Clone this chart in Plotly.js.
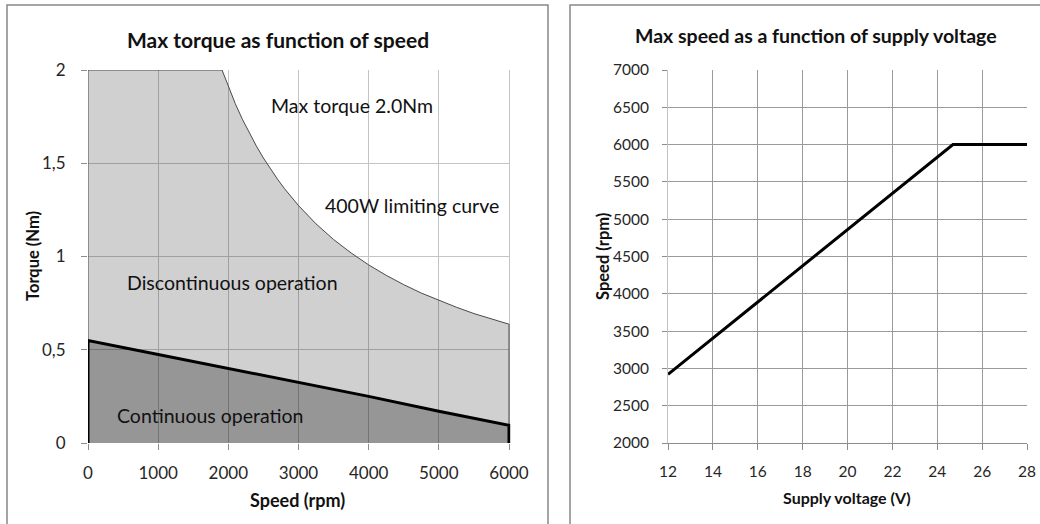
<!DOCTYPE html>
<html>
<head>
<meta charset="utf-8">
<script src="https://cdn.plot.ly/plotly-3.0.1.min.js"></script>
<style>html,body{margin:0;padding:0;background:#fff;}#chart{width:1040px;height:524px;}</style>
</head>
<body>
<div id="chart"></div>
<script>
// ---- Left chart: Max torque as function of speed ----
var maxSpeedRpm = [0, 0, 1910, 2000, 2100, 2200, 2300, 2400, 2500, 2600, 2700, 2800, 2900, 3000, 3250, 3500, 3750, 4000, 4250, 4500, 4750, 5000, 5250, 5500, 5750, 6000, 6000];
var maxTorqueNm = [0, 2.0, 2.0, 1.910, 1.819, 1.736, 1.661, 1.592, 1.528, 1.469, 1.415, 1.364, 1.317, 1.273, 1.175, 1.091, 1.019, 0.955, 0.899, 0.849, 0.804, 0.764, 0.728, 0.694, 0.664, 0.637, 0];
var contSpeedRpm = [0, 0, 1000, 2000, 3000, 4000, 5000, 6000, 6000];
var contTorqueNm = [0, 0.55, 0.475, 0.40, 0.325, 0.25, 0.17, 0.095, 0];
var torqueTickVals = [0, 0.5, 1, 1.5, 2];
var torqueTickText = ["0", "0,5", "1", "1,5", "2"];
var speedTickVals = [0, 1000, 2000, 3000, 4000, 5000, 6000];

// ---- Right chart: Max speed as a function of supply voltage ----
var supplyVoltage = [12, 24.7, 28];
var maxSpeed = [2920, 6000, 6000];
var voltTickVals = [12, 14, 16, 18, 20, 22, 24, 26, 28];
var rpmTickVals = [2000, 2500, 3000, 3500, 4000, 4500, 5000, 5500, 6000, 6500, 7000];

var FONT = "Lato, 'Noto Sans', sans-serif";
var W = 1040, H = 524;
function px(x){ return x / W; }
function py(y){ return 1 - y / H; }

var traces = [
  {
    x: maxSpeedRpm, y: maxTorqueNm, xaxis: 'x', yaxis: 'y',
    type: 'scatter', mode: 'lines', fill: 'toself',
    fillcolor: 'rgba(0,0,0,0.184)',
    line: {color: '#4a4a4a', width: 1},
    hoverinfo: 'skip', showlegend: false
  },
  {
    x: contSpeedRpm, y: contTorqueNm, xaxis: 'x', yaxis: 'y',
    type: 'scatter', mode: 'lines', fill: 'toself',
    fillcolor: 'rgba(0,0,0,0.28)',
    line: {color: '#000000', width: 3},
    hoverinfo: 'skip', showlegend: false
  },
  {
    x: supplyVoltage, y: maxSpeed, xaxis: 'x2', yaxis: 'y2',
    type: 'scatter', mode: 'lines',
    line: {color: '#000000', width: 3},
    hoverinfo: 'skip', showlegend: false
  }
];

var tickFontL = {family: FONT, size: 17, color: '#262626'};
var tickFontR = {family: FONT, size: 15.5, color: '#262626'};

var layout = {
  width: W, height: H,
  margin: {l: 0, r: 0, t: 0, b: 0},
  paper_bgcolor: '#ffffff', plot_bgcolor: 'rgba(0,0,0,0)',
  showlegend: false,
  font: {family: FONT, color: '#1a1a1a'},
  xaxis: {
    domain: [88 / W, 510.4 / W], anchor: 'y',
    range: [0, 6020], tickvals: speedTickVals,
    showgrid: true, gridcolor: '#c4c4c4', gridwidth: 1,
    zeroline: false, showline: false,
    ticks: 'outside', ticklen: 6, tickcolor: '#8c8c8c',
    tickfont: tickFontL, ticklabelstandoff: 9
  },
  yaxis: {
    domain: [py(443), py(70)], anchor: 'x',
    range: [0, 2], tickvals: torqueTickVals, ticktext: torqueTickText,
    showgrid: true, gridcolor: '#c4c4c4', gridwidth: 1,
    zeroline: false, showline: false,
    ticks: 'outside', ticklen: 6, tickcolor: '#8c8c8c',
    tickfont: tickFontL, ticklabelstandoff: 12
  },
  xaxis2: {
    domain: [668 / W, 1027 / W], anchor: 'y2',
    range: [12, 28], tickvals: voltTickVals,
    showgrid: true, gridcolor: '#9a9a9a', gridwidth: 1,
    zeroline: false, showline: true, linecolor: '#8c8c8c', linewidth: 1,
    ticks: 'outside', ticklen: 6, tickcolor: '#8c8c8c',
    tickfont: tickFontR, ticklabelstandoff: 8
  },
  yaxis2: {
    domain: [py(443), py(70)], anchor: 'x2',
    range: [2000, 7000], tickvals: rpmTickVals,
    showgrid: true, gridcolor: '#9a9a9a', gridwidth: 1,
    zeroline: false, showline: true, linecolor: '#c4c4c4', linewidth: 1,
    ticks: 'outside', ticklen: 5, tickcolor: '#8c8c8c',
    tickfont: tickFontR, ticklabelstandoff: 10
  },
  shapes: [
    {type: 'rect', xref: 'paper', yref: 'paper', x0: px(7), x1: px(548), y0: py(540), y1: py(5),
     line: {color: '#888888', width: 1.5}, fillcolor: 'rgba(0,0,0,0)', layer: 'below'},
    {type: 'rect', xref: 'paper', yref: 'paper', x0: px(570), x1: px(1060), y0: py(540), y1: py(5),
     line: {color: '#888888', width: 1.5}, fillcolor: 'rgba(0,0,0,0)', layer: 'below'}
  ],
  annotations: [
    {text: '<b>Max torque as function of speed</b>', xref: 'paper', yref: 'paper', x: px(278), y: py(39),
     showarrow: false, font: {family: FONT, size: 21, color: '#111'}, xanchor: 'center', yanchor: 'middle'},
    {text: '<b>Max speed as a function of supply voltage</b>', xref: 'paper', yref: 'paper', x: px(816), y: py(35),
     showarrow: false, font: {family: FONT, size: 19.5, color: '#111'}, xanchor: 'center', yanchor: 'middle'},
    {text: '<b>Speed (rpm)</b>', xref: 'paper', yref: 'paper', x: px(297), y: py(500),
     showarrow: false, font: {family: FONT, size: 18, color: '#111'}, xanchor: 'center', yanchor: 'middle'},
    {text: '<b>Torque (Nm)</b>', xref: 'paper', yref: 'paper', x: px(33), y: py(256), textangle: -90,
     showarrow: false, font: {family: FONT, size: 16.5, color: '#111'}, xanchor: 'center', yanchor: 'middle'},
    {text: '<b>Supply voltage (V)</b>', xref: 'paper', yref: 'paper', x: px(847), y: py(497),
     showarrow: false, font: {family: FONT, size: 16, color: '#111'}, xanchor: 'center', yanchor: 'middle'},
    {text: '<b>Speed (rpm)</b>', xref: 'paper', yref: 'paper', x: px(603), y: py(257), textangle: -90,
     showarrow: false, font: {family: FONT, size: 16.5, color: '#111'}, xanchor: 'center', yanchor: 'middle'},
    {text: 'Max torque 2.0Nm', xref: 'x', yref: 'y', x: 3763, y: 1.81,
     showarrow: false, font: {family: FONT, size: 19.5, color: '#111'}, xanchor: 'center', yanchor: 'middle'},
    {text: '400W limiting curve', xref: 'x', yref: 'y', x: 4619, y: 1.276,
     showarrow: false, font: {family: FONT, size: 19.5, color: '#111'}, xanchor: 'center', yanchor: 'middle'},
    {text: 'Discontinuous operation', xref: 'x', yref: 'y', x: 2053, y: 0.858,
     showarrow: false, font: {family: FONT, size: 19.5, color: '#111'}, xanchor: 'center', yanchor: 'middle'},
    {text: 'Continuous operation', xref: 'x', yref: 'y', x: 1739, y: 0.145,
     showarrow: false, font: {family: FONT, size: 19.5, color: '#111'}, xanchor: 'center', yanchor: 'middle'}
  ]
};

Plotly.newPlot('chart', traces, layout, {staticPlot: true, displayModeBar: false});
</script>
</body>
</html>
